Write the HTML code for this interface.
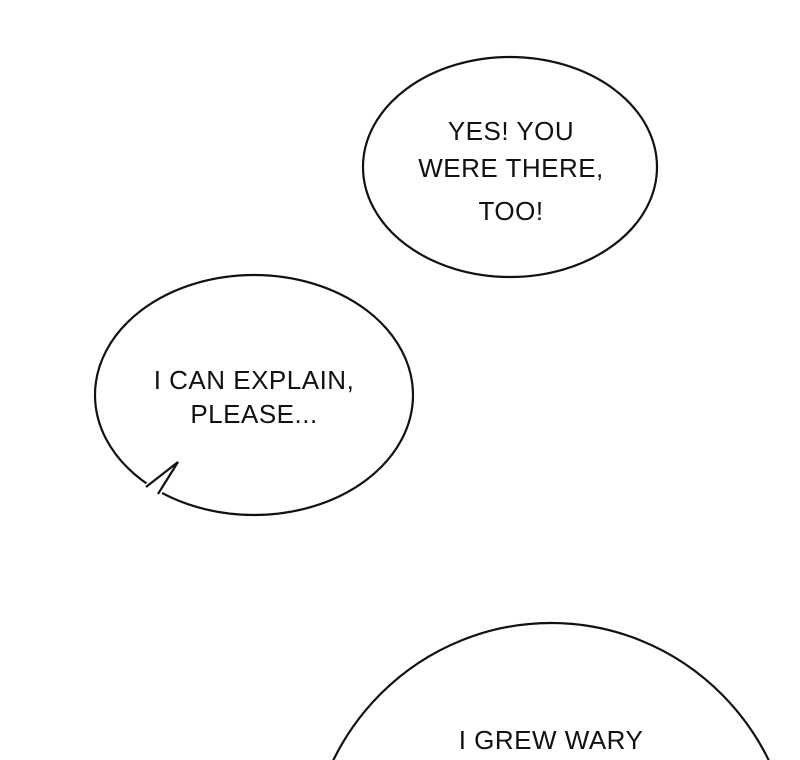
<!DOCTYPE html>
<html><head><style>
html,body{margin:0;padding:0;background:#fff;width:800px;height:760px;overflow:hidden;}
svg{display:block}
text{font-family:"Liberation Sans",sans-serif;font-size:26px;fill:#111;text-anchor:middle;letter-spacing:0.5px}
</style></head><body>
<svg width="800" height="760" viewBox="0 0 800 760">
<ellipse cx="510" cy="167" rx="147" ry="110" fill="#fff" stroke="#111" stroke-width="2.2"/>
<text x="511" y="140">YES! YOU</text>
<text x="511" y="177">WERE THERE,</text>
<text x="511" y="220">TOO!</text>
<ellipse cx="254" cy="395" rx="159" ry="120" fill="#fff" stroke="#111" stroke-width="2.2"/>
<polygon points="144,485 178,462 160,497" fill="#fff" stroke="none"/>
<polyline points="146,487 178,462 158,494" fill="none" stroke="#111" stroke-width="2.2" stroke-linejoin="miter"/>
<text x="254" y="389">I CAN EXPLAIN,</text>
<text x="254" y="423">PLEASE...</text>
<ellipse cx="551" cy="870" rx="243" ry="247" fill="#fff" stroke="#111" stroke-width="2.2"/>
<text x="551" y="749">I GREW WARY</text>
</svg>
</body></html>
